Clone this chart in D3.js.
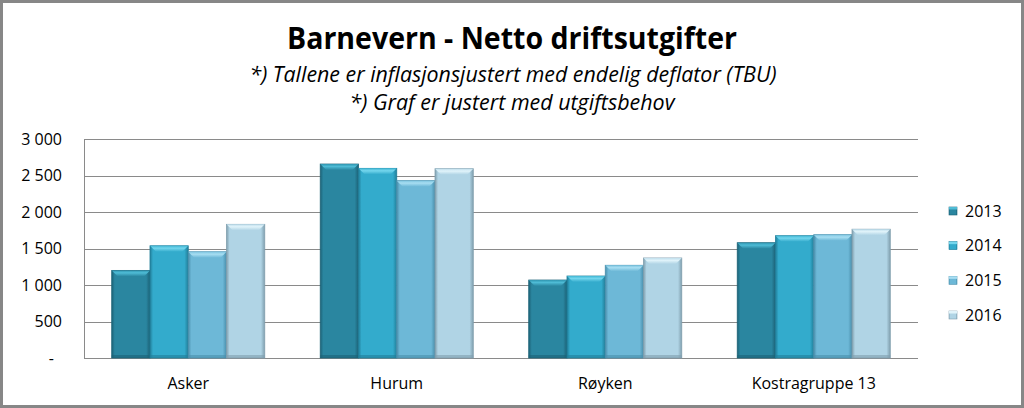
<!DOCTYPE html>
<html>
<head>
<meta charset="utf-8">
<script src="https://cdn.jsdelivr.net/npm/d3@7"></script>
<style>
  html, body { margin: 0; padding: 0; background: #fff; }
  svg { display: block; }
  text { font-family: "Open Sans", "DejaVu Sans", sans-serif; fill: #000; }
</style>
</head>
<body>
<svg id="chart" width="1024" height="408"></svg>
<script>
const categories = ["Asker", "Hurum", "Røyken", "Kostragruppe 13"];
const years = ["2013", "2014", "2015", "2016"];
const values2013 = [1200, 2657, 1068, 1579];
const values2014 = [1537, 2598, 1123, 1675];
const values2015 = [1455, 2429, 1270, 1689];
const values2016 = [1831, 2593, 1370, 1764];
const yTicks = [0, 500, 1000, 1500, 2000, 2500, 3000];
const title = "Barnevern - Netto driftsutgifter";
const subtitle1 = "*) Tallene er inflasjonsjustert med endelig deflator (TBU)";
const subtitle2 = "*) Graf er justert med utgiftsbehov";

const series = [values2013, values2014, values2015, values2016];
const palette = [
  { edge: "#1c6277", mid: "#2a86a0", top: "#4fbcd6", topEdge: "#2f95b0" },
  { edge: "#217f9a", mid: "#33abcc", top: "#74d6ed", topEdge: "#3fb6d4" },
  { edge: "#4a8fac", mid: "#6db8d7", top: "#a8def2", topEdge: "#7cc4e0" },
  { edge: "#809fae", mid: "#b0d4e5", top: "#e0f3fa", topEdge: "#bfdeec" }
];

const svg = d3.select("#chart");
const W = 1024, H = 408;
const plot = { left: 84, right: 918, top: 139, bottom: 358 };

// gradients
const defs = svg.append("defs");
palette.forEach((p, i) => {
  const g = defs.append("linearGradient").attr("id", "bar" + i)
    .attr("x1", "0").attr("x2", "1").attr("y1", "0").attr("y2", "0");
  g.append("stop").attr("offset", "0").attr("stop-color", p.edge);
  g.append("stop").attr("offset", "0.08").attr("stop-color", p.mid);
  g.append("stop").attr("offset", "0.9").attr("stop-color", p.mid);
  g.append("stop").attr("offset", "1").attr("stop-color", p.edge);
  const t = defs.append("linearGradient").attr("id", "top" + i)
    .attr("x1", "0").attr("x2", "0").attr("y1", "0").attr("y2", "1");
  t.append("stop").attr("offset", "0").attr("stop-color", p.topEdge);
  t.append("stop").attr("offset", "0.4").attr("stop-color", p.top);
  t.append("stop").attr("offset", "1").attr("stop-color", p.mid);
});

// frame
svg.append("rect").attr("x", 1.5).attr("y", 1.5).attr("width", W - 3).attr("height", H - 3)
  .attr("fill", "#fff").attr("stroke", "#878787").attr("stroke-width", 3);

// titles
function fitText(sel, len) {
  sel.attr("textLength", len).attr("lengthAdjust", "spacingAndGlyphs");
}
svg.append("text").attr("x", 512).attr("y", 49).attr("text-anchor", "middle")
  .attr("font-size", 30).attr("font-weight", "bold").text(title).call(fitText, 450);
svg.append("text").attr("x", 513).attr("y", 82).attr("text-anchor", "middle")
  .attr("font-size", 21).attr("font-style", "italic").text(subtitle1).call(fitText, 527);
svg.append("text").attr("x", 512).attr("y", 110).attr("text-anchor", "middle")
  .attr("font-size", 21).attr("font-style", "italic").text(subtitle2).call(fitText, 325);

// scales
const x0 = d3.scaleBand().domain(categories).range([plot.left, plot.right])
  .paddingInner(0.266).paddingOuter(0.133);
const x1 = d3.scaleBand().domain(years).range([0, x0.bandwidth()]).padding(0);
const y = d3.scaleLinear().domain([0, 3000]).range([plot.bottom, plot.top]);

// gridlines
svg.append("g").selectAll("line").data(yTicks).join("line")
  .attr("x1", plot.left).attr("x2", plot.right)
  .attr("y1", d => Math.round(y(d)) + 0.5).attr("y2", d => Math.round(y(d)) + 0.5)
  .attr("stroke", "#8a8a8a").attr("stroke-width", 1);
svg.append("line").attr("x1", plot.left + 0.5).attr("x2", plot.left + 0.5)
  .attr("y1", y(3000)).attr("y2", y(0) + 0.5).attr("stroke", "#8a8a8a");

// y axis labels
const fmt = d => d === 0 ? "-" : d3.format(",")(d).replace(/,/g, " ");
svg.append("g").selectAll("text").data(yTicks).join("text")
  .attr("x", d => d === 0 ? 54 : 62).attr("y", d => y(d)).attr("dy", "0.35em")
  .attr("text-anchor", "end").attr("font-size", 16).text(fmt);

// bars
const data = categories.map((c, ci) => ({ cat: c, vals: years.map((yr, si) => ({ yr, si, v: series[si][ci] })) }));
const groups = svg.append("g").selectAll("g").data(data).join("g")
  .attr("transform", d => `translate(${x0(d.cat)},0)`);
const bars = groups.selectAll("g").data(d => d.vals).join("g");
bars.append("rect")
  .attr("x", d => x1(d.yr)).attr("y", d => y(d.v))
  .attr("width", x1.bandwidth()).attr("height", d => y(0) - y(d.v))
  .attr("fill", d => `url(#bar${d.si})`)
  .attr("stroke", d => palette[d.si].edge).attr("stroke-width", 0.8);
bars.append("polygon")
  .attr("points", d => {
    const xl = x1(d.yr), xr = xl + x1.bandwidth(), yt = y(d.v), b = 6;
    return [[xl, yt], [xr, yt], [xr - b, yt + b], [xl + b, yt + b]].map(p => p.join(",")).join(" ");
  })
  .attr("fill", d => `url(#top${d.si})`);
bars.append("rect")
  .attr("x", d => x1(d.yr)).attr("y", d => y(0) - 3)
  .attr("width", x1.bandwidth()).attr("height", 3)
  .attr("fill", d => palette[d.si].edge).attr("opacity", 0.6);

// x labels
svg.append("g").selectAll("text").data(categories).join("text")
  .attr("x", d => x0(d) + x0.bandwidth() / 2).attr("y", 383).attr("dy", "0.35em")
  .attr("text-anchor", "middle").attr("font-size", 16).text(d => d);

// legend
const legendY = d3.scalePoint().domain(years).range([211, 315]);
const leg = svg.append("g").selectAll("g").data(years).join("g")
  .attr("transform", d => `translate(949,${legendY(d)})`);
leg.append("rect").attr("x", 0).attr("y", -4).attr("width", 8).attr("height", 8)
  .attr("fill", (d, i) => `url(#bar${i})`).attr("stroke", (d, i) => palette[i].edge).attr("stroke-width", 0.6);
leg.append("rect").attr("x", 0).attr("y", -4).attr("width", 8).attr("height", 2.5)
  .attr("fill", (d, i) => palette[i].top);
leg.append("text").attr("x", 16).attr("y", 0).attr("dy", "0.35em")
  .attr("font-size", 16).text(d => d);
</script>
</body>
</html>
